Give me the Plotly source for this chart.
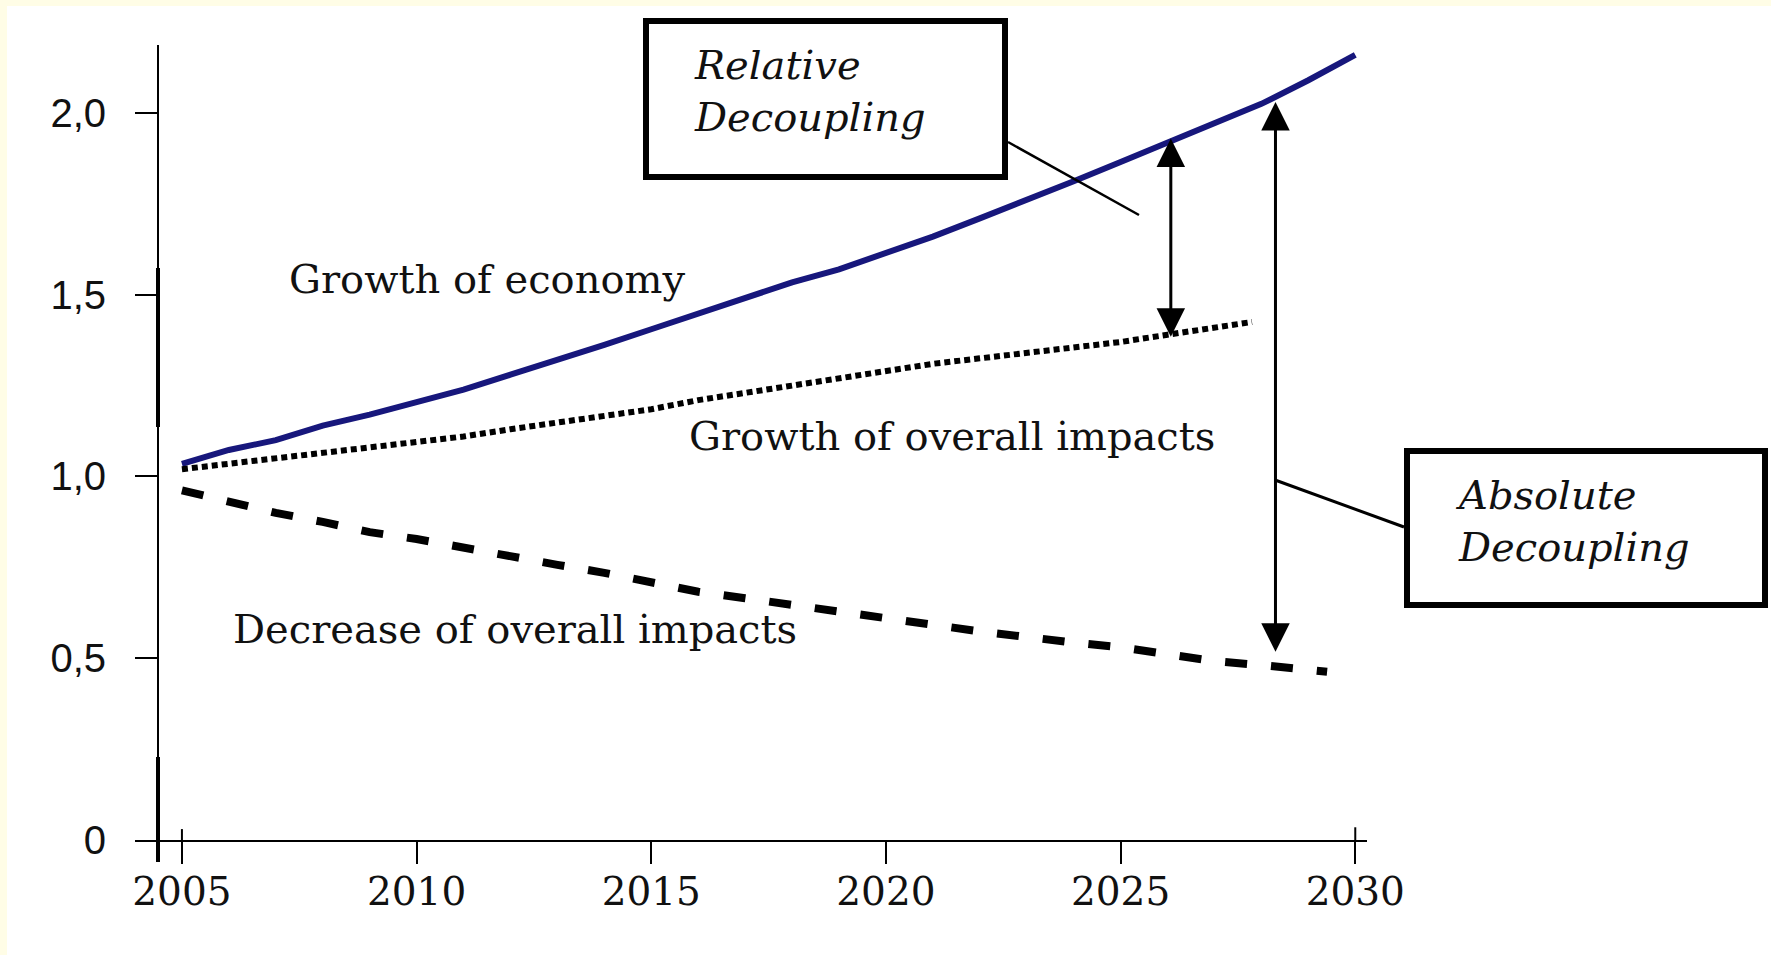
import plotly.graph_objects as go

# ---------------- data ----------------
econ_years = list(range(2005, 2031))
econ_values = [1.035, 1.073, 1.10, 1.14, 1.17, 1.205, 1.239, 1.28, 1.32, 1.362,
               1.405, 1.448, 1.491, 1.534, 1.57, 1.615, 1.66, 1.71, 1.76, 1.812,
               1.865, 1.918, 1.97, 2.025, 2.09, 2.16]

impact_growth_years = list(range(2005, 2028)) + [2027.8]
impact_growth_values = [1.02, 1.035, 1.05, 1.065, 1.08, 1.095, 1.11, 1.13, 1.147, 1.165,
                        1.185, 1.21, 1.23, 1.25, 1.27, 1.29, 1.31, 1.325, 1.34, 1.355,
                        1.37, 1.39, 1.41, 1.425]

impact_decrease_years = list(range(2005, 2030)) + [2029.4]
impact_decrease_values = [0.962, 0.93, 0.90, 0.875, 0.847, 0.828, 0.803, 0.779, 0.757, 0.735,
                          0.71, 0.683, 0.665, 0.648, 0.629, 0.611, 0.592, 0.574, 0.557, 0.543,
                          0.53, 0.512, 0.492, 0.481, 0.468, 0.463]

x_tick_vals = [2005, 2010, 2015, 2020, 2025, 2030]
x_tick_text = ["2005", "2010", "2015", "2020", "2025", "2030"]
y_tick_vals = [0, 0.5, 1.0, 1.5, 2.0]
y_tick_text = ["0", "0,5", "1,0", "1,5", "2,0"]

series_labels = ["Growth of economy", "Growth of overall impacts", "Decrease of overall impacts"]
label_pos = [(2011.5, 1.543), (2021.41, 1.111), (2012.1, 0.58)]

rel_arrow = dict(year=2026.07, low=1.38, high=1.93)
abs_arrow = dict(year=2028.3, low=0.514, high=2.03)

# ---------------- geometry ----------------
W, H = 1771, 955
ML, MR, MT, MB = 135, 404, 45, 115
PW, PH = W - ML - MR, H - MT - MB
X_RANGE = [2004.0, 2030.25]
Y_RANGE = [0, 2.187]


def px(xpix):
    return (xpix - ML) / PW


def py(ypix):
    return (H - MB - ypix) / PH


SERIF = "DejaVu Serif"
SANS = "Liberation Sans, Arial"
NAVY = "#17177c"

fig = go.Figure()
fig.add_trace(go.Scatter(x=econ_years, y=econ_values, mode="lines",
                         line=dict(color=NAVY, width=6), hoverinfo="skip"))
fig.add_trace(go.Scatter(x=impact_growth_years, y=impact_growth_values, mode="lines",
                         line=dict(color="black", width=6, dash="6px,4px"), hoverinfo="skip"))
fig.add_trace(go.Scatter(x=impact_decrease_years, y=impact_decrease_values, mode="lines",
                         line=dict(color="black", width=8, dash="22px,24px"), hoverinfo="skip"))

shapes = []
# cream border (left and top) behind everything
shapes.append(dict(type="rect", xref="paper", yref="paper", layer="below",
                   x0=px(0), x1=px(W), y0=py(H), y1=py(0),
                   fillcolor="#FFFDE6", line=dict(width=0)))
shapes.append(dict(type="rect", xref="paper", yref="paper", layer="below",
                   x0=px(7), x1=px(W), y0=py(H), y1=py(6),
                   fillcolor="white", line=dict(width=0)))
# y axis line (with slight extension below the x axis)
shapes.append(dict(type="line", xref="paper", yref="paper",
                   x0=px(158), x1=px(158), y0=py(862), y1=py(45),
                   line=dict(color="black", width=2)))
# thicker scanned segments of the y axis
shapes.append(dict(type="line", xref="paper", yref="paper",
                   x0=px(158), x1=px(158), y0=py(427), y1=py(268),
                   line=dict(color="black", width=4)))
shapes.append(dict(type="line", xref="paper", yref="paper",
                   x0=px(158), x1=px(158), y0=py(862), y1=py(757),
                   line=dict(color="black", width=4)))
# upward parts of the first and last x ticks
shapes.append(dict(type="line", xref="x", yref="y", x0=2005, x1=2005, y0=0, y1=0.03,
                   line=dict(color="black", width=2)))
shapes.append(dict(type="line", xref="x", yref="y", x0=2030, x1=2030, y0=0, y1=0.035,
                   line=dict(color="black", width=2)))
# annotation boxes
shapes.append(dict(type="rect", xref="paper", yref="paper",
                   x0=px(646), x1=px(1005), y0=py(177), y1=py(21),
                   fillcolor="white", line=dict(color="black", width=6)))
shapes.append(dict(type="rect", xref="paper", yref="paper",
                   x0=px(1407), x1=px(1765), y0=py(605), y1=py(451),
                   fillcolor="white", line=dict(color="black", width=6)))
# connectors
shapes.append(dict(type="line", xref="paper", yref="paper",
                   x0=px(1008), y0=py(142), x1=px(1139), y1=py(215),
                   line=dict(color="black", width=2.5)))
shapes.append(dict(type="line", xref="paper", yref="paper",
                   x0=px(1404), y0=py(527), x1=px(1275), y1=py(480),
                   line=dict(color="black", width=3)))

annotations = []
for (lx, ly), txt in zip(label_pos, series_labels):
    annotations.append(dict(x=lx, y=ly, xref="x", yref="y", text=txt, showarrow=False,
                            xanchor="center", yanchor="middle",
                            font=dict(family=SERIF, size=40, color="#111")))

annotations.append(dict(x=px(692), y=py(91), xref="paper", yref="paper",
                        text="<i>Relative<br>Decoupling</i>", showarrow=False,
                        xanchor="left", yanchor="middle", align="left",
                        font=dict(family=SERIF, size=40, color="#111")))
annotations.append(dict(x=px(1453), y=py(521), xref="paper", yref="paper",
                        text="<i>Absolute<br>Decoupling</i>", showarrow=False,
                        xanchor="left", yanchor="middle", align="left",
                        font=dict(family=SERIF, size=40, color="#111")))

for arr in (rel_arrow, abs_arrow):
    annotations.append(dict(x=arr["year"], y=arr["high"], ax=arr["year"], ay=arr["low"],
                            xref="x", yref="y", axref="x", ayref="y", text="",
                            showarrow=True, arrowside="end+start",
                            arrowhead=2, startarrowhead=2,
                            arrowsize=1.9, startarrowsize=1.9, arrowwidth=3,
                            arrowcolor="black"))

fig.update_layout(
    width=W, height=H,
    margin=dict(l=ML, r=MR, t=MT, b=MB, autoexpand=False),
    paper_bgcolor="#FFFDE6",
    plot_bgcolor="rgba(0,0,0,0)",
    showlegend=False,
    hovermode=False,
    shapes=shapes,
    annotations=annotations,
    xaxis=dict(range=X_RANGE, showgrid=False, zeroline=False,
               showline=True, linecolor="black", linewidth=2,
               tickmode="array", tickvals=x_tick_vals, ticktext=x_tick_text,
               ticks="outside", ticklen=22, tickwidth=2, tickcolor="black",
               ticklabelstandoff=-6,
               tickfont=dict(family=SERIF, size=39, color="#111")),
    yaxis=dict(range=Y_RANGE, showgrid=False, zeroline=False, showline=False,
               tickmode="array", tickvals=y_tick_vals, ticktext=y_tick_text,
               ticks="inside", ticklen=23, tickwidth=2, tickcolor="black",
               ticklabelstandoff=28,
               tickfont=dict(family=SANS, size=40, color="#111")),
)

fig.write_html("out.html", config={"displayModeBar": False},
               post_script="document.body.style.margin='0';document.body.style.overflow='hidden';")
